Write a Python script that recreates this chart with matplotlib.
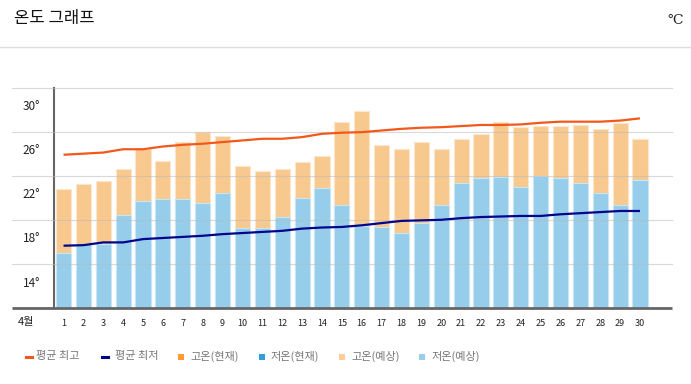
import matplotlib
matplotlib.use("Agg")
import matplotlib.pyplot as plt
from matplotlib.patches import Rectangle
from matplotlib.lines import Line2D

plt.rcParams['font.family'] = ['Noto Sans CJK KR', 'DejaVu Sans']

# data
days = list(range(1, 31))
day_labels = [str(d) for d in days]
high_forecast = [22.8, 23.25, 23.5, 24.6, 26.4, 25.3, 27.05, 28.0, 27.6, 24.85,
                 24.4, 24.6, 25.25, 25.75, 28.9, 29.9, 26.75, 26.45, 27.05, 26.45,
                 27.35, 27.8, 28.9, 28.4, 28.5, 28.5, 28.6, 28.2, 28.75, 27.35]
low_forecast = [17.0, 17.8, 17.8, 20.4, 21.75, 21.85, 21.85, 21.5, 22.4, 19.25,
                19.3, 20.25, 21.95, 22.85, 21.3, 19.4, 19.35, 18.8, 19.75, 21.3,
                23.3, 23.75, 23.85, 22.95, 23.95, 23.75, 23.35, 22.4, 21.3, 23.6]
avg_high = [25.9, 26.0, 26.1, 26.4, 26.4, 26.65, 26.8, 26.9, 27.05, 27.2,
            27.35, 27.35, 27.5, 27.8, 27.9, 27.95, 28.1, 28.25, 28.35, 28.4,
            28.5, 28.6, 28.6, 28.65, 28.8, 28.9, 28.9, 28.9, 29.0, 29.2]
avg_low = [17.65, 17.7, 17.95, 17.95, 18.25, 18.35, 18.45, 18.55, 18.7, 18.8,
           18.9, 19.0, 19.2, 19.3, 19.35, 19.5, 19.7, 19.9, 19.95, 20.0,
           20.15, 20.25, 20.3, 20.35, 20.35, 20.5, 20.6, 20.7, 20.8, 20.8]
ytick_values = [14, 18, 22, 26, 30]
ytick_labels = ['14°', '18°', '22°', '26°', '30°']
grid_values = [16, 20, 24, 28, 32]
legend_labels = ['평균 최고', '평균 최저', '고온(현재)', '저온(현재)', '고온(예상)', '저온(예상)']

W, H = 691, 384
fig = plt.figure(figsize=(W / 100, H / 100), dpi=100)

# header
fig.text(14 / W, 1 - 19 / H, '온도 그래프', fontsize=12, va='center', ha='left', color='#111111')
fig.text(683 / W, 1 - 20 / H, '℃', fontsize=10, va='center', ha='right', color='#222222',
         family=['DejaVu Serif', 'Noto Sans CJK KR'])
fig.add_artist(Line2D([0, 1], [1 - 46.5 / H] * 2, color='#dddddd', lw=1))

ax = fig.add_axes([54 / W, 1 - 308 / H, (672 - 54) / W, (308 - 87.5) / H])
ymin, ymax = 12, 32
ax.set_ylim(ymin, ymax)
ax.set_xlim(0.52, 31.61)

orange = '#f7c98f'
blue = '#95cdea'
ax.bar(days, [h - ymin for h in high_forecast], bottom=ymin, width=0.76,
       color=orange, edgecolor='#fde6cc', linewidth=0.8, zorder=2)
ax.bar(days, [l - ymin for l in low_forecast], bottom=ymin, width=0.76,
       color=blue, edgecolor='#c9e6f5', linewidth=0.8, zorder=3)

ax.plot(days, avg_high, color='#f2581c', lw=1.6, zorder=5, solid_capstyle='butt')
ax.plot(days, avg_low, color='#00058c', lw=1.6, zorder=5, solid_capstyle='butt')

# gridlines extend into the label area
x0 = (12 - 54) / (672 - 54)
for g in grid_values:
    ax.plot([x0, 1], [g, g], transform=ax.get_yaxis_transform(), color='#bbbbbb',
            lw=0.8, alpha=0.55, clip_on=False, zorder=4)
ax.plot([x0, 1], [ymin, ymin], transform=ax.get_yaxis_transform(), color='#666666',
        lw=2, clip_on=False, zorder=6, solid_capstyle='butt')

for s in ['top', 'right', 'bottom']:
    ax.spines[s].set_visible(False)
ax.spines['left'].set_color('#666666')
ax.spines['left'].set_linewidth(1.5)

ax.set_yticks([v + 0.4 for v in ytick_values])
ax.set_yticklabels(ytick_labels, fontsize=8.5, color='#222222')
ax.tick_params(axis='y', length=0, pad=10)
ax.set_xticks(days)
ax.set_xticklabels(day_labels, fontsize=6.5, color='#222222')
ax.tick_params(axis='x', length=0, pad=8)

fig.text(26 / W, 1 - 322 / H, '4월', fontsize=8, ha='center', va='center', color='#222222')

# legend drawn manually
ly = 1 - 356.5 / H
legend_marks = [('line', '#f2581c', 26, 36), ('line', '#00058c', 101.5, 115),
                ('sq', '#ff9933', 177.5, 190), ('sq', '#2e9fd8', 258.5, 270.5),
                ('sq', '#ffcc99', 339, 351), ('sq', '#99ccee', 419, 431.5)]
for (kind, col, mx, tx), lab in zip(legend_marks, legend_labels):
    if kind == 'line':
        fig.add_artist(Line2D([mx / W, (mx + 6) / W], [ly, ly], color=col, lw=2.2))
    else:
        fig.add_artist(Rectangle((mx / W, ly - 3 / H), 6 / W, 6 / H, color=col, lw=0))
    fig.text(tx / W, ly, lab, fontsize=8, ha='left', va='center', color='#777777')

fig.savefig('out.png', dpi=100)
